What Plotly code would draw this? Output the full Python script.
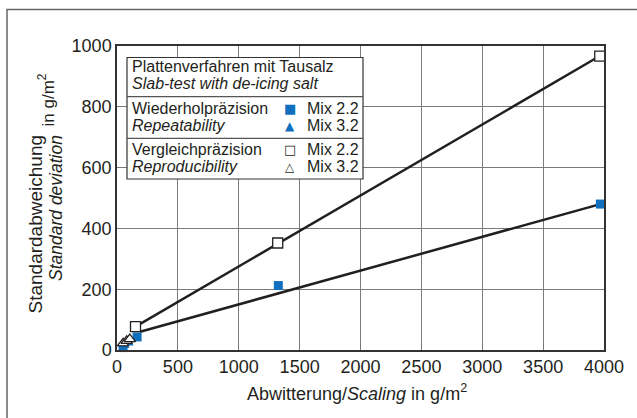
import plotly.graph_objects as go

# ---- data ----
repeat_mix22_x = [50, 165, 1325, 3970]
repeat_mix22_y = [8, 43, 212, 480]
repeat_mix32_x = [60, 95]
repeat_mix32_y = [14, 22]
repro_mix22_x = [152, 1320, 3965]
repro_mix22_y = [77, 352, 967]
repro_mix32_x = [50, 80, 105]
repro_mix32_y = [22, 30, 36]
fit_repro_x = [152, 3965]
fit_repro_y = [77, 967]
fit_repeat_x = [190, 3970]
fit_repeat_y = [60, 480]

x_ticks = [0, 500, 1000, 1500, 2000, 2500, 3000, 3500, 4000]
y_ticks = [0, 200, 400, 600, 800, 1000]

BLUE = "#106fbf"
DARK = "#231f20"
GRID = "#7a7a7a"
FONT = "Liberation Sans"

W, H = 637, 418
L, R, T, B = 117, 604, 46, 350


def px(xp):
    return (xp - L) / (R - L)


def py(yp):
    return (B - yp) / (B - T)


fig = go.Figure()
fig.add_trace(go.Scatter(x=fit_repro_x, y=fit_repro_y, mode="lines",
                         line=dict(color=DARK, width=2.5), hoverinfo="skip"))
fig.add_trace(go.Scatter(x=fit_repeat_x, y=fit_repeat_y, mode="lines",
                         line=dict(color=DARK, width=2.5), hoverinfo="skip"))
fig.add_trace(go.Scatter(x=repeat_mix22_x, y=repeat_mix22_y, mode="markers",
                         marker=dict(symbol="square", size=9, color=BLUE,
                                     line=dict(width=0)), cliponaxis=False))
fig.add_trace(go.Scatter(x=repeat_mix32_x, y=repeat_mix32_y, mode="markers",
                         marker=dict(symbol="triangle-up", size=9, color=BLUE,
                                     line=dict(width=0)), cliponaxis=False))
fig.add_trace(go.Scatter(x=repro_mix22_x, y=repro_mix22_y, mode="markers",
                         marker=dict(symbol="square", size=10, color="white",
                                     line=dict(width=1.3, color=DARK)), cliponaxis=False))
fig.add_trace(go.Scatter(x=repro_mix32_x, y=repro_mix32_y, mode="markers",
                         marker=dict(symbol="triangle-up", size=10, color="white",
                                     line=dict(width=1.3, color=DARK)), cliponaxis=False))

axis_common = dict(showgrid=True, gridcolor=GRID, gridwidth=1.2, showline=True,
                   linecolor="#333333", linewidth=1.5, mirror=True, zeroline=False,
                   ticks="", tickfont=dict(family=FONT, size=18, color=DARK))
fig.update_xaxes(range=[0, 4000], tickvals=x_ticks, **axis_common)
fig.update_yaxes(range=[0, 1000], tickvals=y_ticks, **axis_common)

shapes = []
# outer frame (only top and left visible)
shapes.append(dict(type="rect", xref="paper", yref="paper",
                   x0=px(7), x1=px(660), y0=py(440), y1=py(9.5),
                   line=dict(color="#666666", width=1.5), fillcolor="rgba(0,0,0,0)",
                   layer="below"))
# legend box
shapes.append(dict(type="rect", xref="paper", yref="paper",
                   x0=px(127), x1=px(363), y0=py(179), y1=py(57.5),
                   line=dict(color="#333333", width=1.2), fillcolor="white", layer="above"))
for yy in (96.7, 138.3):
    shapes.append(dict(type="line", xref="paper", yref="paper",
                       x0=px(127), x1=px(363), y0=py(yy), y1=py(yy),
                       line=dict(color="#555555", width=1.2), layer="above"))

ann = []


def text(xp, yp, s, size=16, xanchor="left", color=DARK, family=FONT):
    ann.append(dict(x=px(xp), y=py(yp), xref="paper", yref="paper", text=s,
                    showarrow=False, xanchor=xanchor, yanchor="middle",
                    font=dict(family=family, size=size, color=color)))


text(130, 66.7, "Plattenverfahren mit Tausalz")
text(130, 83, "<i>Slab-test with de-icing salt</i>")
text(130, 108, "Wiederholpräzision")
text(130, 125.5, "<i>Repeatability</i>")
text(130, 149, "Vergleichpräzision")
text(130, 166.5, "<i>Reproducibility</i>")
for yy, s in ((108, "Mix 2.2"), (125.5, "Mix 3.2"), (149, "Mix 2.2"), (166.5, "Mix 3.2")):
    text(305, yy, s)
text(290, 108, "■", size=13, xanchor="center", color=BLUE, family="DejaVu Sans")
text(290, 125.5, "▲", size=12, xanchor="center", color=BLUE, family="DejaVu Sans")
text(290, 149, "□", size=13, xanchor="center", family="DejaVu Sans")
text(290, 166.5, "△", size=12, xanchor="center", family="DejaVu Sans")

# axis titles
ann.append(dict(x=px(357), y=py(392), xref="paper", yref="paper",
                text="Abwitterung/<i>Scaling</i> in g/m<sup>2</sup>", showarrow=False,
                xanchor="center", yanchor="middle", font=dict(family=FONT, size=18, color=DARK)))
ann.append(dict(x=px(35), y=py(133), xref="paper", yref="paper", text="Standardabweichung",
                textangle=-90, showarrow=False, xanchor="center", yanchor="top",
                font=dict(family=FONT, size=19, color=DARK)))
ann.append(dict(x=px(56), y=py(133), xref="paper", yref="paper", text="<i>Standard deviation</i>",
                textangle=-90, showarrow=False, xanchor="center", yanchor="top",
                font=dict(family=FONT, size=17.5, color=DARK)))
ann.append(dict(x=px(46), y=py(72), xref="paper", yref="paper", text="in g/m<sup>2</sup>",
                textangle=-90, showarrow=False, xanchor="center", yanchor="top",
                font=dict(family=FONT, size=17, color=DARK)))

fig.update_layout(width=W, height=H, margin=dict(l=L, r=W - R, t=T, b=H - B),
                  paper_bgcolor="white", plot_bgcolor="white", showlegend=False,
                  shapes=shapes, annotations=ann)
fig.write_html("out.html")
